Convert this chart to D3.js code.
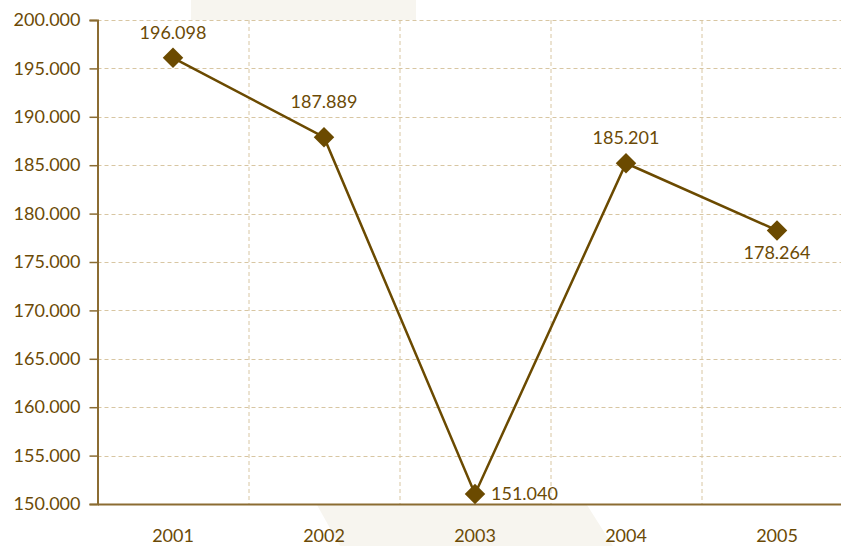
<!DOCTYPE html>
<html>
<head>
<meta charset="utf-8">
<script src="https://cdn.jsdelivr.net/npm/d3@7"></script>
<style>
  html, body { margin: 0; padding: 0; background: #fff; }
  svg { display: block; font-family: Lato, "Open Sans", sans-serif; }
</style>
</head>
<body>
<div id="chart"></div>
<script>
// Data
const years = ['2001', '2002', '2003', '2004', '2005'];
const values = [196098, 187889, 151040, 185201, 178264];
const labels = ['196.098', '187.889', '151.040', '185.201', '178.264'];
const labelPos = ['above', 'high', 'right', 'above', 'below'];
const yTicks = [150000, 155000, 160000, 165000, 170000, 175000, 180000, 185000, 190000, 195000, 200000];

const W = 841, H = 546;
const margin = { top: 20, right: -11.5, bottom: 42, left: 97.5 };
const width = W - margin.left - margin.right;
const height = H - margin.top - margin.bottom;

const textColor = '#6b4a06';
const lineColor = '#6b4a00';
const gridColor = '#d8c6a2';
const axisColor = '#8b6c32';
const fontSize = '18px';

const svg = d3.select('#chart')
    .append('svg')
    .attr('width', W)
    .attr('height', H);

// faint watermark behind the plot
svg.append('rect')
    .attr('x', 191).attr('y', 0)
    .attr('width', 225).attr('height', 20)
    .attr('fill', '#f7f5ef');
svg.append('polygon')
    .attr('points', '317,505 587,505 613,546 340,546')
    .attr('fill', '#f7f5ef');

const g = svg.append('g')
    .attr('transform', `translate(${margin.left},${margin.top})`);

const x = d3.scaleBand().domain(years).range([0, width]).padding(0);
const y = d3.scaleLinear().domain([150000, 200000]).range([height, 0]);

g.append('rect')
    .attr('width', width).attr('height', height)
    .attr('fill', '#fff');

// horizontal grid
g.selectAll('.hgrid')
    .data(yTicks.slice(1))
    .enter().append('line')
    .attr('x1', 0).attr('x2', width)
    .attr('y1', d => Math.round(y(d)) + 0.5)
    .attr('y2', d => Math.round(y(d)) + 0.5)
    .attr('stroke', gridColor)
    .attr('stroke-dasharray', '4,3');

// vertical grid at band boundaries
g.selectAll('.vgrid')
    .data(years.slice(1))
    .enter().append('line')
    .attr('x1', d => Math.round(x(d)) + 0.5)
    .attr('x2', d => Math.round(x(d)) + 0.5)
    .attr('y1', 0).attr('y2', height)
    .attr('stroke', gridColor)
    .attr('stroke-dasharray', '4,3');

// y axis
const yAxis = d3.axisLeft(y)
    .tickValues(yTicks)
    .tickSize(8)
    .tickPadding(9)
    .tickFormat(d => d3.format('.3f')(d / 1000));

const ya = g.append('g').call(yAxis);
ya.select('.domain').attr('stroke', axisColor).attr('stroke-width', 2);
ya.selectAll('.tick line').attr('stroke', axisColor).attr('stroke-width', 1.5);
ya.selectAll('text')
    .attr('fill', textColor)
    .style('font-size', fontSize)
    .style('font-family', 'Lato, sans-serif');

// x axis
const xAxis = d3.axisBottom(x).tickSize(0).tickPadding(25);
const xa = g.append('g')
    .attr('transform', `translate(0,${height})`)
    .call(xAxis);
xa.select('.domain').attr('stroke', axisColor).attr('stroke-width', 2);
xa.selectAll('text')
    .attr('fill', textColor)
    .style('font-size', fontSize)
    .style('font-family', 'Lato, sans-serif');

const cx = d => x(d) + x.bandwidth() / 2;

// line
const line = d3.line()
    .x((d, i) => cx(years[i]))
    .y(d => y(d));

g.append('path')
    .datum(values)
    .attr('d', line)
    .attr('fill', 'none')
    .attr('stroke', lineColor)
    .attr('stroke-width', 2.5);

// diamond markers
g.selectAll('.marker')
    .data(values)
    .enter().append('path')
    .attr('d', d3.symbol().type(d3.symbolSquare).size(210))
    .attr('transform', (d, i) => `translate(${cx(years[i])},${y(d)}) rotate(45)`)
    .attr('fill', lineColor);

// value labels
g.selectAll('.vlabel')
    .data(values)
    .enter().append('text')
    .attr('x', (d, i) => labelPos[i] === 'right' ? cx(years[i]) + 16 : cx(years[i]))
    .attr('y', (d, i) => {
        if (labelPos[i] === 'above') return y(d) - 19;
        if (labelPos[i] === 'high') return y(d) - 29;
        if (labelPos[i] === 'below') return y(d) + 29;
        return y(d) + 6;
    })
    .attr('text-anchor', (d, i) => labelPos[i] === 'right' ? 'start' : 'middle')
    .attr('fill', textColor)
    .style('font-size', fontSize)
    .text((d, i) => labels[i]);
</script>
</body>
</html>
